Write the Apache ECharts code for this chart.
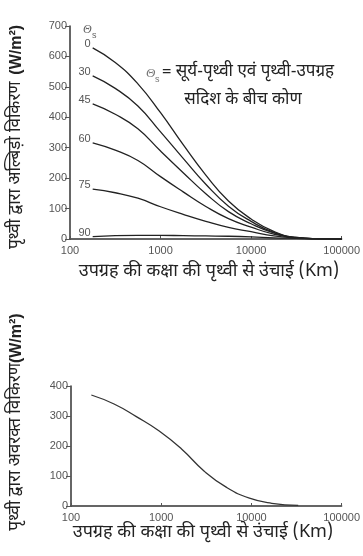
<!DOCTYPE html>
<html><head><meta charset="utf-8">
<script src="https://cdn.jsdelivr.net/npm/echarts@6/dist/echarts.min.js"></script>
<style>html,body{margin:0;padding:0;background:#fff}#c{width:363px;height:556px}</style>
</head><body><div id="c"></div>
<script>
// Top chart: albedo radiation vs altitude for several sun angles
const altitudes = [178, 316, 562, 1000, 1778, 3162, 5623, 10000, 17783, 31623, 56234, 100000];
const angleLabels = ['0', '30', '45', '60', '75', '90'];
const albedo0  = [628, 580, 510, 415, 310, 210, 125, 66, 25, 5, 1, 0];
const albedo30 = [536, 495, 437, 352, 265, 180, 108, 58, 22, 5, 1, 0];
const albedo45 = [444, 410, 362, 289, 218, 149, 90, 50, 20, 4, 1, 0];
const albedo60 = [316, 292, 258, 205, 155, 107, 67, 39, 16, 4, 1, 0];
const albedo75 = [164, 152, 134, 106, 81, 58, 38, 24, 10, 3, 0, 0];
const albedo90 = [8, 11, 12, 12, 11, 10, 9, 7, 4, 2, 0, 0];
// Bottom chart: infrared radiation vs altitude
const irAltitudes = [168, 300, 530, 950, 1680, 3000, 5300, 9500, 16800, 33000];
const irValues = [370, 340, 298, 250, 190, 116, 62, 26, 9, 2];
const xTicks = [100, 1000, 10000, 100000];

const albedoSeries = [albedo0, albedo30, albedo45, albedo60, albedo75, albedo90];
const devFont = '"Noto Sans Devanagari","Lohit Devanagari","Mangal","Noto Sans",sans-serif';
const axisLabelStyle = {color: '#555', fontSize: 11, fontFamily: 'Liberation Sans, Arial, sans-serif'};

const chart = echarts.init(document.getElementById('c'), null, {renderer: 'canvas'});

function xAxisCfg(gi) {
  return {
    type: 'log', logBase: 10, min: xTicks[0], max: xTicks[xTicks.length - 1], gridIndex: gi,
    axisLine: {lineStyle: {color: '#333', width: 1.5}},
    axisTick: {inside: true, length: 3, lineStyle: {color: '#555'}},
    minorTick: {show: false},
    splitLine: {show: false},
    axisLabel: Object.assign({margin: 6, formatter: v => String(Math.round(v))}, axisLabelStyle)
  };
}
function yAxisCfg(gi, max) {
  return {
    type: 'value', min: 0, max: max, interval: 100, gridIndex: gi,
    axisLine: {show: true, lineStyle: {color: '#333', width: 1.5}},
    axisTick: {show: true, length: 5, lineStyle: {color: '#555'}},
    splitLine: {show: false},
    axisLabel: Object.assign({margin: 3}, axisLabelStyle)
  };
}

const series = albedoSeries.map((vals) => ({
  type: 'line', xAxisIndex: 0, yAxisIndex: 0, smooth: 0.5, symbol: 'none',
  lineStyle: {color: '#222', width: 1.3},
  data: vals.map((v, j) => [altitudes[j], v])
}));
series.push({
  type: 'line', xAxisIndex: 1, yAxisIndex: 1, smooth: 0.5, symbol: 'none',
  lineStyle: {color: '#333', width: 1.3},
  data: irValues.map((v, j) => [irAltitudes[j], v])
});

const yTitleRich = {
  a: {font: '17px ' + devFont, fill: '#222'},
  b: {font: 'bold 16px Liberation Sans, Arial, sans-serif', fill: '#222'}
};

const graphics = [
  {type: 'text', x: 83, y: 24, style: {text: 'Θ', fill: '#666', font: 'italic 12px Liberation Serif, serif'}},
  {type: 'text', x: 92, y: 31, style: {text: 's', fill: '#666', font: '9px Liberation Sans, sans-serif'}},
  {type: 'text', x: 146, y: 67, style: {text: 'Θ', fill: '#777', font: 'italic 13px Liberation Serif, serif'}},
  {type: 'text', x: 155, y: 75, style: {text: 's', fill: '#777', font: '9px Liberation Sans, sans-serif'}},
  {type: 'text', x: 162, y: 64, style: {text: '= सूर्य-पृथ्वी एवं पृथ्वी-उपग्रह', fill: '#222', font: '17px ' + devFont}},
  {type: 'text', x: 243, y: 101, style: {text: 'सदिश के बीच कोण', fill: '#222', font: '17px ' + devFont, textAlign: 'center', textVerticalAlign: 'middle'}},
  {type: 'text', x: 209, y: 273, style: {text: 'उपग्रह की कक्षा की पृथ्वी से उंचाई (Km)', fill: '#222', font: '18px ' + devFont, textAlign: 'center', textVerticalAlign: 'middle'}},
  {type: 'text', x: 203, y: 534, style: {text: 'उपग्रह की कक्षा की पृथ्वी से उंचाई (Km)', fill: '#222', font: '18px ' + devFont, textAlign: 'center', textVerticalAlign: 'middle'}},
  {type: 'text', x: 17, y: 137, rotation: Math.PI / 2, style: {text: '{a|पृथ्वी द्वारा अल्बिड़ो विकिरण}  {b|(W/m²)}', rich: yTitleRich, textAlign: 'center', textVerticalAlign: 'middle'}},
  {type: 'text', x: 17, y: 422, rotation: Math.PI / 2, style: {text: '{a|पृथ्वी द्वारा अवरक्त विकिरण}{b|(W/m²)}', rich: yTitleRich, textAlign: 'center', textVerticalAlign: 'middle'}}
];

chart.setOption({
  animation: false,
  grid: [
    {left: 70, right: 20, top: 26, height: 213},
    {left: 71, right: 14, top: 386, height: 120}
  ],
  xAxis: [xAxisCfg(0), xAxisCfg(1)],
  yAxis: [yAxisCfg(0, 700), yAxisCfg(1, 400)],
  series: series
});

// Curve angle labels placed at each curve's starting point via the axis scales
albedoSeries.forEach((vals, i) => {
  const p = chart.convertToPixel({gridIndex: 0}, [altitudes[0], vals[0]]);
  graphics.push({type: 'text', x: p[0] - 2, y: p[1] - 4,
    style: {text: angleLabels[i], fill: '#555', font: '11px Liberation Sans, Arial, sans-serif',
            textAlign: 'right', textVerticalAlign: 'middle'}});
});
chart.setOption({graphic: graphics});
</script></body></html>
